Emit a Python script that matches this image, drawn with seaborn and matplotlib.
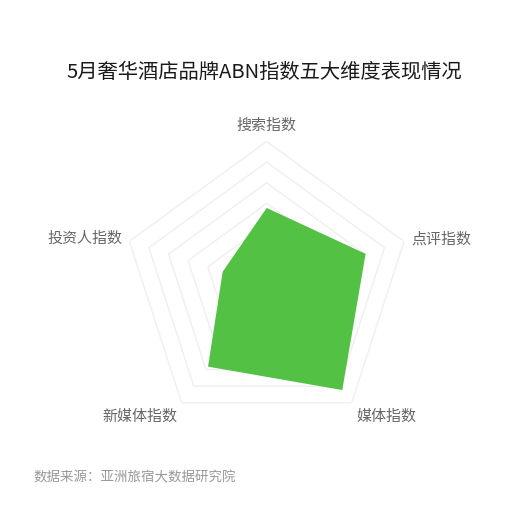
import matplotlib
matplotlib.use("Agg")
import matplotlib.pyplot as plt
import numpy as np
import seaborn as sns

# five ABN dimensions, clockwise from the top
categories = ['搜索指数', '点评指数', '媒体指数', '新媒体指数', '投资人指数']
scores = [54, 72, 89, 69, 32]
score_max = 100
n_rings = 7

title = '5月奢华酒店品牌ABN指数五大维度表现情况'
source = '数据来源：亚洲旅宿大数据研究院'

sns.set_theme(style="white")
plt.rcParams['font.family'] = ['Noto Sans CJK SC', 'DejaVu Sans']

fig = plt.figure(figsize=(5.28, 5.28), dpi=100)
ax = fig.add_axes([0.2314, 0.1847, 0.5473, 0.5473], projection='polar')
ax.set_theta_offset(np.pi / 2)
ax.set_theta_direction(-1)

angles = np.linspace(0, 2 * np.pi, len(categories), endpoint=False)
closed = np.append(angles, angles[0])

# pentagon rings
for k in range(1, n_rings + 1):
    r = score_max * k / n_rings
    ax.plot(closed, [r] * len(closed), color='#efefef', lw=1, zorder=1)

vals = np.append(scores, scores[0])
ax.fill(closed, vals, color='#52c144', zorder=2, lw=0)

ax.set_ylim(0, score_max)
ax.set_xticks([])
ax.set_yticks([])
ax.grid(False)
ax.spines['polar'].set_visible(False)
ax.set_facecolor('none')

# label placement: (r, ha, va)
label_pos = [(111, 'center', 'center'),
             (105, 'left', 'center'),
             (105.5, 'left', 'top'),
             (105.5, 'right', 'top'),
             (105, 'right', 'center')]
for a, lab, (r, ha, va) in zip(angles, categories, label_pos):
    ax.text(a, r, lab, ha=ha, va=va, fontsize=10.8, color='#666666',
            clip_on=False)

fig.text(0.5, 1 - 72 / 528, title, ha='center', va='center',
         fontsize=14.6, color='#1a1a1a')
fig.text(33 / 528, 1 - 478 / 528, source, ha='left', va='center',
         fontsize=9.7, color='#999999')

fig.savefig('out.png', dpi=100, facecolor='white')
